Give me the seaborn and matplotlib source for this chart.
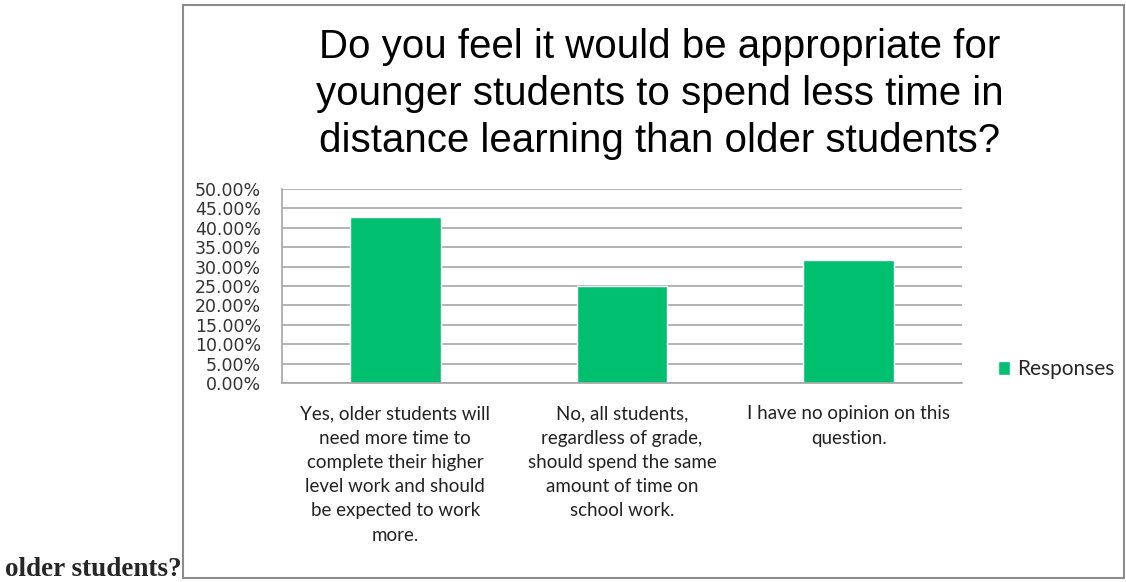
import matplotlib
matplotlib.use('Agg')
import matplotlib.pyplot as plt
import matplotlib.patches as patches
from matplotlib.ticker import FuncFormatter, FixedLocator
import seaborn as sns
import pandas as pd

categories = [
    "Yes, older students will\nneed more time to\ncomplete their higher\nlevel work and should\nbe expected to work\nmore.",
    "No, all students,\nregardless of grade,\nshould spend the same\namount of time on\nschool work.",
    "I have no opinion on this\nquestion.",
]
responses = [42.9, 25.0, 31.6]
yticks = [0, 5, 10, 15, 20, 25, 30, 35, 40, 45, 50]
title = "Do you feel it would be appropriate for\nyounger students to spend less time in\ndistance learning than older students?"

df = pd.DataFrame({'answer': categories, 'pct': responses})

sns.set_style('white')
plt.rcParams['font.family'] = ['Liberation Sans', 'DejaVu Sans']

fig = plt.figure(figsize=(11.26, 5.82), dpi=100)
ax = fig.add_axes([282 / 1126, 1 - 383 / 582, 680 / 1126, 194 / 582])

green = '#00BF6F'
sns.barplot(data=df, x='answer', y='pct', color=green, width=0.4, ax=ax,
            label='Responses', saturation=1)

ax.set_ylim(0, 50)
ax.set_xlim(-0.5, 2.5)
ax.yaxis.set_major_locator(FixedLocator(yticks))
ax.yaxis.set_major_formatter(FuncFormatter(lambda v, p: f"{v:.2f}%"))
ax.grid(axis='y', color='#a6a6a6', linewidth=1.2)
ax.set_axisbelow(True)
ax.set_xlabel('')
ax.set_ylabel('')

for s in ['top', 'right']:
    ax.spines[s].set_visible(False)
for s in ['left', 'bottom']:
    ax.spines[s].set_color('#a6a6a6')
    ax.spines[s].set_linewidth(1.2)

ax.tick_params(axis='y', length=5, width=1, color='#a6a6a6', direction='out',
               labelsize=12.5, pad=10)
for lbl in ax.get_yticklabels():
    lbl.set_family('DejaVu Sans')
    lbl.set_color('#333333')

ax.set_xticks([-0.5, 0.5, 1.5, 2.5], minor=True)
ax.tick_params(axis='x', which='minor', length=5, width=1, color='#a6a6a6')
ax.tick_params(axis='x', which='major', length=0, pad=16)
ax.set_xticks(range(len(categories)))
ax.set_xticklabels(categories, fontsize=13.5, color='#222222', linespacing=1.52,
                   family=['Lato', 'DejaVu Sans'], va='top')

leg = ax.legend(loc='center left', bbox_to_anchor=(1.025, 0.07), frameon=False,
                handlelength=0.6, handleheight=0.6, handletextpad=0.35,
                prop={'family': 'Lato', 'size': 15})

fig.text(660 / 1126, 1 - 94 / 582, title, ha='center', va='center',
         fontsize=29, linespacing=1.29, color='#000000')

border = patches.Rectangle((183 / 1126, 1 - 578 / 582), (1124 - 183) / 1126, 573 / 582,
                           transform=fig.transFigure, fill=False,
                           edgecolor='#8c8c8c', linewidth=1.5)
fig.patches.append(border)

fig.text(5 / 1126, 1 - 570 / 582, "older students?", ha='left', va='center',
         fontsize=19.5, fontweight='bold', family='Liberation Serif')

fig.savefig('out.png', dpi=100)
